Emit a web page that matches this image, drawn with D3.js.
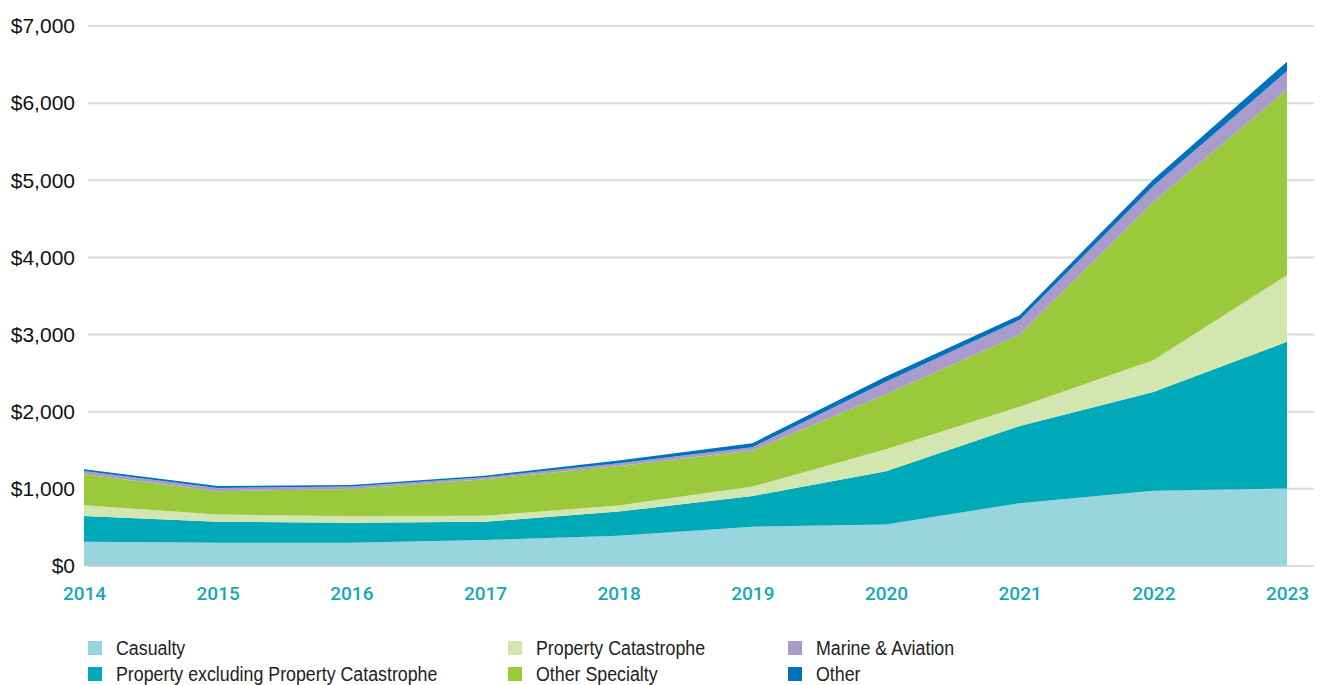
<!DOCTYPE html>
<html>
<head>
<meta charset="utf-8">
<script src="https://cdn.jsdelivr.net/npm/d3@7"></script>
<style>
    body { margin: 0; background: #fff; }
    #chart { width: 1320px; height: 685px; }
</style>
</head>
<body>
<div id="chart"></div>
<script>
// Values (US$ millions)
const years = [2014, 2015, 2016, 2017, 2018, 2019, 2020, 2021, 2022, 2023];
const casualty = [315, 302, 302, 337, 393, 510, 537, 815, 977, 1005];
const property = [333, 273, 260, 238, 312, 398, 692, 1000, 1278, 1902];
const propertyCat = [139, 91, 83, 78, 78, 121, 286, 250, 412, 862];
const otherSpecialty = [402, 303, 354, 471, 514, 467, 710, 935, 2051, 2407];
const marineAviation = [43, 43, 30, 26, 35, 44, 165, 190, 208, 241];
const other = [22, 26, 22, 21, 34, 52, 65, 60, 83, 120];
const yTicks = [0, 1000, 2000, 3000, 4000, 5000, 6000, 7000];

const series = [
    {key: "Casualty", values: casualty, color: "#99d5dd"},
    {key: "Property excluding Property Catastrophe", values: property, color: "#00a9b7"},
    {key: "Property Catastrophe", values: propertyCat, color: "#d4e6b0"},
    {key: "Other Specialty", values: otherSpecialty, color: "#9aca3c"},
    {key: "Marine & Aviation", values: marineAviation, color: "#a99bcb"},
    {key: "Other", values: other, color: "#0071bc"}
];

const drawChart = () => {
    const width = 1320, height = 685;

    const svg = d3.select("#chart")
        .append("svg")
        .attr("width", width)
        .attr("height", height)
        .attr("viewBox", [0, 0, width, height]);

    const x = d3.scaleLinear()
        .domain(d3.extent(years))
        .range([84, 1287]);

    const y = d3.scaleLinear()
        .domain([0, 7000])
        .range([566, 26]);

    const table = years.map((yr, i) => {
        const row = {year: yr};
        series.forEach(s => row[s.key] = s.values[i]);
        return row;
    });

    const stacked = d3.stack().keys(series.map(s => s.key))(table);

    // gridlines
    svg.append("g")
        .selectAll("line")
        .data(yTicks)
        .join("line")
        .attr("x1", 88)
        .attr("x2", 1314)
        .attr("y1", d => y(d))
        .attr("y2", d => y(d))
        .attr("stroke", "#dadada")
        .attr("stroke-width", 2);

    const area = d3.area()
        .x(d => x(d.data.year))
        .y0(d => y(d[0]))
        .y1(d => y(d[1]));

    svg.append("g")
        .selectAll("path")
        .data(stacked)
        .join("path")
        .attr("d", area)
        .attr("fill", (d, i) => series[i].color);

    // y axis labels
    const yAxis = g => g
        .attr("transform", "translate(75,0)")
        .call(d3.axisLeft(y).tickValues(yTicks).tickSize(0).tickPadding(0)
            .tickFormat(d => "$" + d3.format(",")(d)))
        .call(g => g.select(".domain").remove())
        .call(g => g.selectAll("text")
            .attr("font-family", "'Liberation Sans', Arial, sans-serif")
            .attr("font-size", 21)
            .attr("fill", "#111"));

    svg.append("g").call(yAxis);

    // x axis labels
    const xAxis = g => g
        .attr("transform", "translate(0,586)")
        .call(d3.axisBottom(x).tickValues(years).tickSize(0).tickPadding(0)
            .tickFormat(d3.format("d")))
        .call(g => g.select(".domain").remove())
        .call(g => g.selectAll("text")
            .attr("font-family", "Roboto, sans-serif")
            .attr("font-weight", 500)
            .attr("font-size", 19)
            .attr("dy", "0.71em")
            .attr("fill", "#14a8b8"));

    svg.append("g").call(xAxis);

    // legend, two rows per column
    const legendCols = [88, 508, 788];
    const legendRows = [641, 667];
    const legend = svg.append("g")
        .attr("font-family", "'Liberation Sans', Arial, sans-serif")
        .attr("font-size", 20)
        .selectAll("g")
        .data(series)
        .join("g")
        .attr("transform", (d, i) => `translate(${legendCols[Math.floor(i / 2)]},${legendRows[i % 2]})`);

    legend.append("rect")
        .attr("width", 14)
        .attr("height", 14)
        .attr("fill", d => d.color);

    // the source font is condensed; squeeze the text horizontally
    legend.append("text")
        .attr("transform", "translate(28,7) scale(0.89,1)")
        .attr("dy", "0.36em")
        .attr("fill", "#222")
        .text(d => d.key);
};

drawChart();
</script>
</body>
</html>
